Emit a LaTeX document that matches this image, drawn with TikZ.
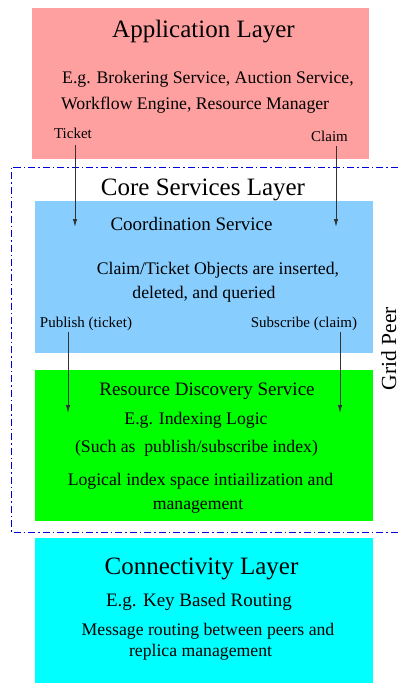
\documentclass[tikz,border=0pt]{standalone}
\usepackage{fontspec}
\setmainfont{Liberation Serif}
\usetikzlibrary{arrows.meta}
\definecolor{apppink}{RGB}{255,160,160}
\definecolor{coreblue}{RGB}{135,206,255}
\definecolor{rdsgreen}{RGB}{0,255,0}
\definecolor{conncyan}{RGB}{0,255,255}
\definecolor{peerblue}{RGB}{0,0,220}

\begin{document}
\begin{tikzpicture}[x=1pt,y=-1pt,
  layerbox/.style={anchor=north west, inner sep=0pt, outer sep=0pt},
  ttl/.style={anchor=base, inner sep=0pt, font=\fontsize{25}{30}\selectfont},
  sub/.style={anchor=base, inner sep=0pt, font=\fontsize{19}{23}\selectfont},
  body/.style={anchor=base, inner sep=0pt, font=\fontsize{17.7}{22}\selectfont},
  lbl/.style={anchor=base, inner sep=0pt, font=\fontsize{15}{18}\selectfont},
  flow/.style={draw=black!80, line width=1pt, -{Latex[length=8pt,width=4.5pt]}},
  peer/.style={draw=peerblue, line width=1pt, dash pattern=on 7pt off 3pt on 1.5pt off 3pt}]
\useasboundingbox (0,0) rectangle (401,683);

% application layer
\node[layerbox, fill=apppink, minimum width=337pt, minimum height=151pt] (app) at (32,8) {};

% grid peer frame (open on the right)
\draw[peer] (412,167) -- (11,167) -- (11,532) -- (412,532);

% layer boxes inside and below the peer
\node[layerbox, fill=coreblue, minimum width=338pt, minimum height=152pt] (coord) at (35,201) {};
\node[layerbox, fill=rdsgreen, minimum width=338pt, minimum height=151pt] (rds) at (35,370) {};
\node[layerbox, fill=conncyan, minimum width=338pt, minimum height=150pt] (conn) at (35,538) {};

% application layer texts
\node[ttl] (appT) at (203.5,37) {Application Layer};
\node[body, anchor=base west] (appA) at (62,83.5) {E.g. Brokering Service, Auction Service,};
\node[body, anchor=base west] (appB) at (61,109) {Workflow Engine, Resource Manager};
\node[lbl] (ticket) at (73,138) {Ticket};
\node[lbl] (claim) at (329.5,141) {Claim};

% core services texts
\node[ttl] (coreT) at (203,195) {Core Services Layer};
\node[sub] (coordT) at (191.5,230.5) {Coordination Service};
\node[body] (coordA) at (218,274) {Claim/Ticket Objects are inserted,};
\node[body] (coordB) at (204,298) {deleted, and queried};
\node[lbl] (publish) at (86,327) {Publish (ticket)};
\node[lbl] (subscribe) at (304,327) {Subscribe (claim)};

% resource discovery texts
\node[sub] (rdsT) at (207,395) {Resource Discovery Service};
\node[body] (rdsA) at (196,424) {E.g. Indexing Logic};
\node[body] (rdsB) at (196.5,452.5) {(Such as\ \ publish/subscribe index)};
\node[body] (rdsC) at (200.5,485) {Logical index space intiailization and};
\node[body] (rdsD) at (198,509) {management};

% connectivity texts
\node[ttl] (connT) at (201.5,574) {Connectivity Layer};
\node[sub] (connA) at (199,606) {E.g. Key Based Routing};
\node[body] (connB) at (208,635) {Message routing between peers and};
\node[body] (connC) at (200.5,656.5) {replica management};

% side label
\node[anchor=base, inner sep=0pt, rotate=90, font=\fontsize{21.5}{25}\selectfont] (peerT) at (396,348.5) {Grid Peer};

% flow arrows
\coordinate (tkA) at (75,145);
\coordinate (tkB) at (75,227);
\coordinate (clA) at (336,146);
\coordinate (clB) at (336,227);
\coordinate (pbA) at (68,332);
\coordinate (pbB) at (68,413);
\coordinate (sbA) at (340,332);
\coordinate (sbB) at (340,413);
\draw[flow] (tkA) -- (tkB);
\draw[flow] (clA) -- (clB);
\draw[flow] (pbA) -- (pbB);
\draw[flow] (sbA) -- (sbB);
\end{tikzpicture}
\end{document}
